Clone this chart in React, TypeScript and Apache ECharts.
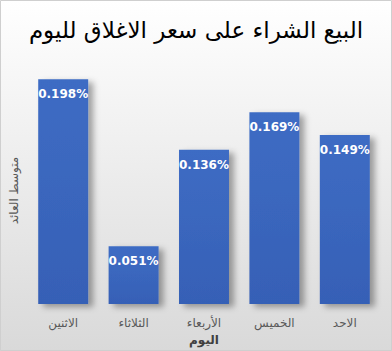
import React, { useEffect, useRef } from "react";
import * as echarts from "echarts";

const titleText = "البيع الشراء على سعر الاغلاق لليوم";
const categories = ["الاثنين", "الثلاثاء", "الأربعاء", "الخميس", "الاحد"];
const values = [0.198, 0.051, 0.136, 0.169, 0.149];
const xName = "اليوم";
const yName = "متوسط العائد";

export default function App() {
  const ref = useRef<HTMLDivElement>(null);
  useEffect(() => {
    document.body.style.margin = "0";
    const chart = echarts.init(ref.current!, null, { renderer: "svg" });
    const font = "DejaVu Sans, Arial, sans-serif";
    chart.setOption({
      animation: false,
      backgroundColor: new echarts.graphic.LinearGradient(0, 0, 0, 1, [
        { offset: 0, color: "#ffffff" },
        { offset: 1, color: "#d9d9d9" },
      ]),
      graphic: [
        {
          type: "rect",
          shape: { x: 0.5, y: 0.5, width: 391, height: 350 },
          style: { fill: "none", stroke: "#cfcfcf", lineWidth: 1 },
          silent: true,
        },
      ],
      title: {
        text: titleText,
        left: "center",
        top: 13,
        textStyle: { fontFamily: font, fontSize: 23, fontWeight: "normal", color: "#000" },
      },
      grid: { left: 27, right: 12, top: 77, bottom: 45, containLabel: false },
      xAxis: {
        type: "category",
        data: categories,
        axisLine: { show: false },
        axisTick: { show: false },
        axisLabel: { color: "#595959", fontFamily: font, fontSize: 12, margin: 13 },
        name: xName,
        nameLocation: "middle",
        nameGap: 27,
        nameTextStyle: { color: "#404040", fontFamily: font, fontSize: 12, fontWeight: "bold" },
      },
      yAxis: {
        type: "value",
        min: 0,
        max: 0.2,
        axisLine: { show: false },
        axisTick: { show: false },
        axisLabel: { show: false },
        splitLine: { show: false },
        name: yName,
        nameLocation: "middle",
        nameGap: 8,
        nameRotate: 90,
        nameTextStyle: { color: "#595959", fontFamily: font, fontSize: 12 },
      },
      series: [
        {
          type: "bar",
          data: values,
          barWidth: "71%",
          itemStyle: {
            color: new echarts.graphic.LinearGradient(0, 0, 0, 1, [
              { offset: 0, color: "#3e6cc4" },
              { offset: 1, color: "#3660b6" },
            ]),
            shadowColor: "rgba(0,0,0,0.35)",
            shadowBlur: 6,
            shadowOffsetX: 5,
            shadowOffsetY: 3,
          },
          label: {
            show: true,
            position: "insideTop",
            distance: 9,
            color: "#ffffff",
            fontFamily: font,
            fontSize: 12,
            fontWeight: "bold",
            formatter: (p: any) => p.value.toFixed(3) + "%",
          },
        },
      ],
    });
    return () => chart.dispose();
  }, []);
  return (
    <div
      ref={ref}
      style={{ position: "absolute", left: 0, top: 0, width: 392, height: 351 }}
    />
  );
}
